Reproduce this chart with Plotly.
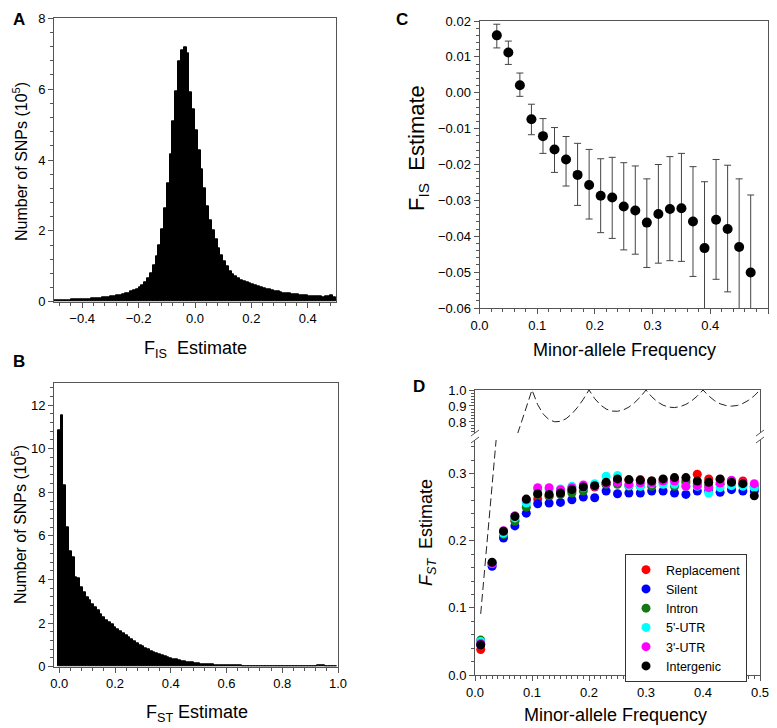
import numpy as np
import plotly.graph_objects as go

# ---- Panel A: F_IS histogram (counts in 1e5, bins of 0.01 from -0.5 to 0.5) ----
fis_counts = [
    0.04, 0.04, 0.04, 0.05, 0.05, 0.05, 0.06, 0.06, 0.06, 0.07,
    0.07, 0.08, 0.08, 0.09, 0.10, 0.10, 0.11, 0.12, 0.12, 0.13,
    0.14, 0.16, 0.17, 0.19, 0.21, 0.23, 0.25, 0.28, 0.31, 0.35,
    0.40, 0.46, 0.54, 0.65, 0.80, 1.02, 1.27, 1.60, 2.05, 2.65,
    3.35, 4.15, 5.10, 5.95, 6.78, 7.10, 7.18, 7.02, 5.90, 5.42,
    4.85, 4.27, 3.74, 3.20, 2.70, 2.30, 2.02, 1.75, 1.50, 1.32,
    1.13, 0.99, 0.87, 0.78, 0.72, 0.66, 0.61, 0.57, 0.54, 0.51,
    0.48, 0.45, 0.43, 0.40, 0.38, 0.36, 0.34, 0.32, 0.30, 0.28,
    0.27, 0.25, 0.24, 0.23, 0.22, 0.21, 0.20, 0.19, 0.18, 0.17,
    0.16, 0.16, 0.15, 0.14, 0.14, 0.13, 0.14, 0.16, 0.19, 0.12,
]
fis_bins = np.round(np.arange(-0.495, 0.5, 0.01), 3)

# ---- Panel B: F_ST histogram (counts in 1e5, bins of 0.01 centred 0.00..0.99) ----
fst_counts = [
    10.85, 11.52, 8.32, 6.40, 5.30, 5.00, 4.12, 4.04, 3.65, 3.42,
    3.20, 3.04, 2.88, 2.72, 2.57, 2.42, 2.28, 2.15, 2.04, 1.93,
    1.82, 1.72, 1.62, 1.52, 1.42, 1.33, 1.24, 1.15, 1.07, 0.99,
    0.92, 0.85, 0.78, 0.72, 0.66, 0.61, 0.56, 0.51, 0.47, 0.43,
    0.39, 0.35, 0.32, 0.29, 0.26, 0.24, 0.22, 0.20, 0.18, 0.16,
    0.15, 0.13, 0.12, 0.11, 0.10, 0.09, 0.085, 0.08, 0.07, 0.065,
    0.06, 0.055, 0.05, 0.05, 0.045, 0.045, 0.04, 0.04, 0.04, 0.035,
    0.035, 0.035, 0.03, 0.03, 0.03, 0.03, 0.03, 0.03, 0.025, 0.025,
    0.025, 0.025, 0.02, 0.02, 0.02, 0.02, 0.02, 0.02, 0.02, 0.02,
    0.02, 0.02, 0.03, 0.05, 0.07, 0.06, 0.03, 0.02, 0.02, 0.02,
]
fst_bins = np.round(np.arange(0.0, 1.0, 0.01), 3)

# ---- Panel C: F_IS vs minor-allele frequency ----
maf_c = [0.03, 0.05, 0.07, 0.09, 0.11, 0.13, 0.15, 0.17, 0.19, 0.21, 0.23, 0.25,
         0.27, 0.29, 0.31, 0.33, 0.35, 0.37, 0.39, 0.41, 0.43, 0.45, 0.47]
fis_mean = [0.0160, 0.0112, 0.0021, -0.0074, -0.0121, -0.0158, -0.0186, -0.0229,
            -0.0257, -0.0287, -0.0292, -0.0317, -0.0328, -0.0362, -0.0338, -0.0324,
            -0.0322, -0.0359, -0.0433, -0.0354, -0.0380, -0.0430, -0.0501]
fis_hi = [0.0191, 0.0144, 0.0055, -0.0032, -0.0072, -0.0097, -0.0122, -0.0141,
          -0.0158, -0.0184, -0.0180, -0.0195, -0.0204, -0.0240, -0.0200, -0.0178,
          -0.0169, -0.0206, -0.0248, -0.0186, -0.0202, -0.0240, -0.0285]
fis_lo = [0.0125, 0.0079, -0.0010, -0.0117, -0.0169, -0.0222, -0.0260, -0.0314,
          -0.0352, -0.0390, -0.0406, -0.0438, -0.0450, -0.0487, -0.0475, -0.0468,
          -0.0470, -0.0512, -0.0618, -0.0520, -0.0555, -0.0620, -0.0717]

# ---- Panel D: F_ST vs minor-allele frequency by site class ----
maf_d = [0.01, 0.03, 0.05, 0.07, 0.09, 0.11, 0.13, 0.15, 0.17, 0.19, 0.21, 0.23, 0.25,
         0.27, 0.29, 0.31, 0.33, 0.35, 0.37, 0.39, 0.41, 0.43, 0.45, 0.47, 0.49]
replacement = [0.038, 0.166, 0.211, 0.231, 0.259, 0.262, 0.266, 0.270, 0.274, 0.279, 0.280, 0.284, 0.289,
               0.290, 0.291, 0.289, 0.291, 0.291, 0.289, 0.299, 0.292, 0.291, 0.289, 0.289, 0.281]
silent = [0.045, 0.162, 0.204, 0.222, 0.241, 0.255, 0.256, 0.257, 0.261, 0.265, 0.264, 0.274, 0.270,
          0.271, 0.271, 0.274, 0.274, 0.271, 0.269, 0.274, 0.274, 0.272, 0.276, 0.274, 0.274]
intron = [0.052, 0.166, 0.209, 0.229, 0.250, 0.269, 0.267, 0.269, 0.271, 0.274, 0.281, 0.284, 0.284,
          0.281, 0.281, 0.281, 0.287, 0.281, 0.286, 0.285, 0.282, 0.284, 0.285, 0.283, 0.279]
utr5 = [0.050, 0.166, 0.211, 0.234, 0.256, 0.276, 0.276, 0.277, 0.281, 0.279, 0.285, 0.296, 0.297,
        0.282, 0.281, 0.285, 0.284, 0.284, 0.281, 0.281, 0.271, 0.279, 0.282, 0.281, 0.279]
utr3 = [0.047, 0.166, 0.215, 0.237, 0.261, 0.279, 0.279, 0.276, 0.279, 0.283, 0.281, 0.286, 0.287,
        0.284, 0.286, 0.286, 0.289, 0.289, 0.281, 0.282, 0.279, 0.286, 0.290, 0.286, 0.285]
intergenic = [0.045, 0.168, 0.214, 0.236, 0.262, 0.270, 0.269, 0.271, 0.276, 0.280, 0.282, 0.287, 0.292,
              0.291, 0.290, 0.289, 0.292, 0.294, 0.294, 0.289, 0.287, 0.292, 0.287, 0.285, 0.267]

# dashed reference curve (maximum F_ST)
maf_curve = [0.01, 0.02, 0.03, 0.04, 0.05, 0.06, 0.07, 0.08, 0.09, 0.10,
             0.11, 0.12, 0.13, 0.14, 0.15, 0.16, 0.17, 0.18, 0.19, 0.20,
             0.21, 0.22, 0.23, 0.24, 0.25, 0.26, 0.27, 0.28, 0.29, 0.30,
             0.31, 0.32, 0.33, 0.34, 0.35, 0.36, 0.37, 0.38, 0.39, 0.40,
             0.41, 0.42, 0.43, 0.44, 0.45, 0.46, 0.47, 0.48, 0.49, 0.50]
fst_max = [0.091, 0.184, 0.278, 0.375, 0.474, 0.575, 0.677, 0.783, 0.890, 1.000,
           0.908, 0.848, 0.814, 0.801, 0.804, 0.821, 0.851, 0.892, 0.942, 1.000,
           0.946, 0.907, 0.881, 0.868, 0.867, 0.875, 0.893, 0.921, 0.956, 1.000,
           0.958, 0.926, 0.905, 0.893, 0.890, 0.896, 0.910, 0.932, 0.962, 1.000,
           0.963, 0.934, 0.914, 0.903, 0.899, 0.903, 0.916, 0.936, 0.964, 1.000]

classes = ["Replacement", "Silent", "Intron", "5'-UTR", "3'-UTR", "Intergenic"]
class_vals = [replacement, silent, intron, utr5, utr3, intergenic]
class_colors = ["#ff0000", "#0000ff", "#137a13", "#00ffff", "#ff00ff", "#000000"]

# the page body adds an 8px margin, so the figure is 8px smaller and
# reference pixel positions are shifted by 8
OFF = 8
W, H = 777 - OFF, 728 - OFF
FONT = "Liberation Sans, Arial, sans-serif"
AX = "#555555"


def px(x):
    return (x - OFF) / W


def py(y):
    return 1 - (y - OFF) / H


fig = go.Figure()

bar_style = dict(color="black", line=dict(width=1, color="black"))
fig.add_trace(go.Bar(x=fis_bins, y=fis_counts, width=0.01, marker=bar_style,
                     xaxis="x", yaxis="y", showlegend=False))
fig.add_trace(go.Bar(x=fst_bins, y=fst_counts, width=0.01, marker=bar_style,
                     xaxis="x3", yaxis="y3", showlegend=False))

err_up = [h - m for h, m in zip(fis_hi, fis_mean)]
err_dn = [m - l for m, l in zip(fis_mean, fis_lo)]
fig.add_trace(go.Scatter(x=maf_c, y=fis_mean, mode="markers", xaxis="x2", yaxis="y2", showlegend=False,
                         marker=dict(color="black", size=10),
                         error_y=dict(type="data", array=err_up, arrayminus=err_dn, color="#444", thickness=1, width=3.5)))

# dashed curve in both parts of the broken axis
for xa, ya in (("x4", "y4"), ("x5", "y5")):
    fig.add_trace(go.Scatter(x=maf_curve, y=fst_max, mode="lines", xaxis=xa, yaxis=ya, showlegend=False,
                             line=dict(color="#222", width=1, dash="8px,4px")))

for name, vals, col in zip(classes, class_vals, class_colors):
    fig.add_trace(go.Scatter(x=maf_d, y=vals, mode="markers", name=name, xaxis="x4", yaxis="y4",
                             marker=dict(color=col, size=9)))


def ax(domain, rng, dtick, minor_dtick, ticks="outside", **kw):
    d = dict(domain=domain, range=rng, dtick=dtick, showline=True, linecolor=AX, linewidth=1,
             mirror=True, ticks=ticks, ticklen=5, tickcolor=AX, showgrid=False, zeroline=False,
             automargin=False, tickfont=dict(size=13, color="black", family=FONT),
             minor=dict(dtick=minor_dtick, ticks=ticks, ticklen=3, tickcolor=AX, showgrid=False))
    d.update(kw)
    return d


fig.update_layout(
    template="none",
    width=W, height=H, margin=dict(l=0, r=0, t=0, b=0, autoexpand=False),
    paper_bgcolor="white", plot_bgcolor="white", bargap=0,
    font=dict(family=FONT, color="black"),
    # A
    xaxis=ax([px(54), px(336)], [-0.5, 0.5], 0.2, 0.04, anchor="y", tickformat=".1f"),
    yaxis=ax([py(301.7), py(18.3)], [0, 8], 2, 0.4, anchor="x"),
    # C
    xaxis2=ax([px(479.5), px(768)], [0, 0.5], 0.1, 0.02, anchor="y2", tickformat=".1f"),
    yaxis2=ax([py(308), py(21)], [-0.06, 0.02], 0.01, 0.002, anchor="x2", tickformat=".2f"),
    # B
    xaxis3=ax([px(54), px(338)], [-0.019, 1.0], 0.2, 0.04, anchor="y3", tickformat=".1f"),
    yaxis3=ax([py(666.7), py(383.3)], [0, 13], 2, 0.4, anchor="x3"),
    # D lower
    xaxis4=ax([px(475), px(760)], [0, 0.5], 0.1, 0.01, anchor="y4", mirror=False, tickformat=".1f"),
    yaxis4=ax([py(675), py(440)], [0, 0.35], 0.1, 0.02, anchor="x4", tickformat=".1f"),
    # D upper
    xaxis5=ax([px(475), px(760)], [0, 0.5], 0.1, 0.01, ticks="", anchor="y5", side="top", mirror=False,
              showticklabels=False),
    yaxis5=ax([py(433), py(390)], [0.731, 1.0], 0.1, 0.02, anchor="x5", tickformat=".1f"),
    legend=dict(x=px(625), y=py(554), xanchor="left", yanchor="top", bordercolor="#333", borderwidth=1,
                bgcolor="white", font=dict(size=12.5, family=FONT), tracegroupgap=0),
)

ann = []
# top panel letters sit at the very top edge of the figure
for t, x in (("A", 19), ("C", 402)):
    ann.append(dict(text="<b>%s</b>" % t, x=px(x), y=1, yanchor="top", font=dict(size=17)))
for t, x, y in (("B", 19, 361), ("D", 419, 386)):
    ann.append(dict(text="<b>%s</b>" % t, x=px(x), y=py(y), font=dict(size=17)))
for t, x, y, s in (("F<sub>IS</sub>  Estimate", 195, 349, 18), ("Minor-allele Frequency", 624, 350, 18),
                   ("F<sub>ST</sub> Estimate", 197, 713, 18), ("Minor-allele Frequency", 615, 715, 18)):
    ann.append(dict(text=t, x=px(x), y=py(y), font=dict(size=s)))
for t, x, y, s in (("Number of SNPs (10<sup>5</sup>)", 20, 162, 16), ("Number of SNPs (10<sup>5</sup>)", 19, 525, 16),
                   ("F<sub>IS</sub>  Estimate", 418, 148, 22), ("<i>F<sub>ST</sub></i>  Estimate", 427, 532, 18)):
    ann.append(dict(text=t, x=px(x), y=py(y), textangle=-90, font=dict(size=s)))
for a in ann:
    a.setdefault("yanchor", "middle")
    a.update(xref="paper", yref="paper", showarrow=False, xanchor="center")
fig.update_layout(annotations=ann)

# axis-break marks on the F_ST panel
shapes = []
for xe in (475, 760):
    for ye in (433, 440):
        shapes.append(dict(type="line", xref="paper", yref="paper", x0=px(xe - 4), y0=py(ye + 3),
                           x1=px(xe + 4), y1=py(ye - 3), line=dict(color=AX, width=1)))
fig.update_layout(shapes=shapes)

fig.write_html("out.html")
